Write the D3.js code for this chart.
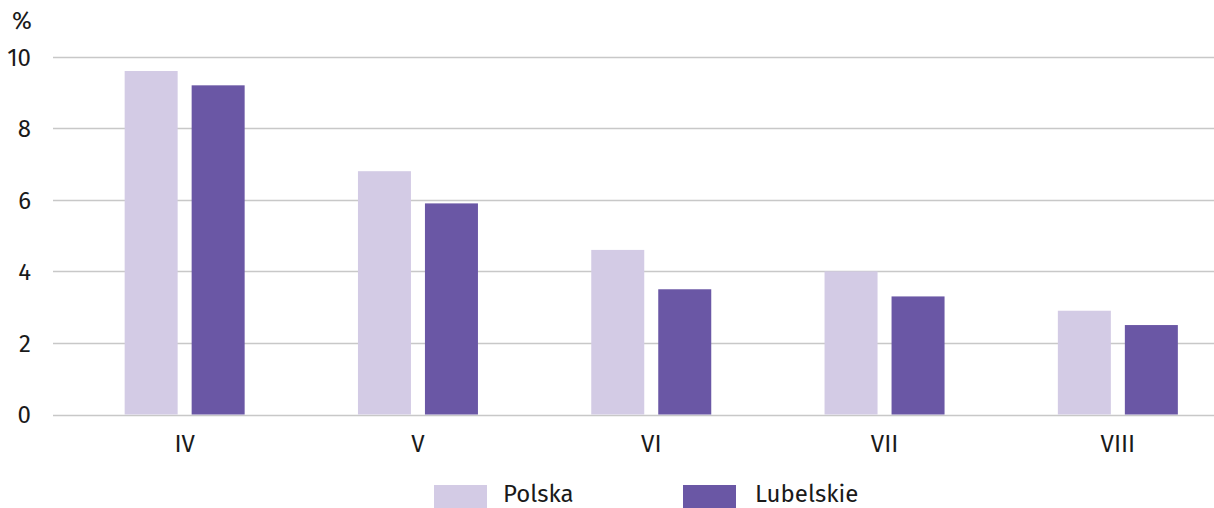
<!DOCTYPE html>
<html>
<head>
<meta charset="utf-8">
<script src="https://cdn.jsdelivr.net/npm/d3@7/dist/d3.min.js"></script>
<style>
  body { margin: 0; background: #fff; }
  text { font-family: "Fira Sans", "Noto Sans", "Open Sans", sans-serif; fill: #1a1a1a; }
</style>
</head>
<body>
<script>
// data
var months = ["IV", "V", "VI", "VII", "VIII"];
var series = ["Polska", "Lubelskie"];
var polska = [9.6, 6.8, 4.6, 4.0, 2.9];
var lubelskie = [9.2, 5.9, 3.5, 3.3, 2.5];
var yTicks = [0, 2, 4, 6, 8, 10];
var colors = ["#d3cbe5", "#6a57a5"];

var width = 1214, height = 508;
var fs = "24px";

var svg = d3.select("body").append("svg")
    .attr("width", width)
    .attr("height", height);

var x = d3.scaleBand()
    .domain(months)
    .range([68, 1234.5])
    .paddingInner(0)
    .paddingOuter(0);

var x1 = d3.scaleBand()
    .domain(series)
    .range([x.bandwidth() / 2 - 60, x.bandwidth() / 2 + 60])
    .paddingInner(14 / 67)
    .paddingOuter(0);

var y = d3.scaleLinear()
    .domain([0, 10])
    .range([414.5, 56.7]);

/*===== gridlines =====*/
svg.append("g").selectAll("line")
    .data(yTicks)
    .enter().append("line")
    .attr("x1", 53)
    .attr("x2", width)
    .attr("y1", function(d) { return Math.round(y(d)) + 0.5; })
    .attr("y2", function(d) { return Math.round(y(d)) + 0.5; })
    .attr("stroke", "#c8c8c8")
    .attr("stroke-width", 1.4);

/*===== y axis labels =====*/
var yAxis = d3.axisLeft(y).tickValues(yTicks).tickSize(0).tickPadding(0);
var yg = svg.append("g")
    .attr("transform", "translate(31,0)")
    .call(yAxis);
yg.select(".domain").remove();
yg.selectAll("text")
    .style("font-size", fs)
    .attr("fill", "#1a1a1a")
    .attr("dy", "0.35em");

svg.append("text")
    .attr("x", 22)
    .attr("y", 29)
    .attr("text-anchor", "middle")
    .style("font-size", fs)
    .text("%");

/*===== bars =====*/
var rows = months.map(function(m, i) {
  return { month: m, values: [
    { key: "Polska", v: polska[i] },
    { key: "Lubelskie", v: lubelskie[i] }
  ]};
});

var groups = svg.append("g").selectAll("g")
    .data(rows)
    .enter().append("g")
    .attr("transform", function(d) { return "translate(" + x(d.month) + ",0)"; });

groups.selectAll("rect")
    .data(function(d) { return d.values; })
    .enter().append("rect")
    .attr("x", function(d) { return x1(d.key); })
    .attr("width", x1.bandwidth())
    .attr("y", function(d) { return y(d.v); })
    .attr("height", function(d) { return y(0) - y(d.v); })
    .attr("fill", function(d, i) { return colors[i]; });

/*===== x axis labels =====*/
var xAxis = d3.axisBottom(x).tickSize(0).tickPadding(0);
var xg = svg.append("g")
    .attr("transform", "translate(0,452)")
    .call(xAxis);
xg.select(".domain").remove();
xg.selectAll("text")
    .style("font-size", fs)
    .attr("fill", "#1a1a1a")
    .attr("dy", "0");

/*===== legend =====*/
var legendX = [434, 683];
var legend = svg.append("g").selectAll("g")
    .data(series)
    .enter().append("g")
    .attr("transform", function(d, i) { return "translate(" + legendX[i] + ",485)"; });

legend.append("rect")
    .attr("width", 53)
    .attr("height", 23)
    .attr("fill", function(d, i) { return colors[i]; });

legend.append("text")
    .attr("x", function(d, i) { return i == 0 ? 69 : 72; })
    .attr("y", 17)
    .style("font-size", fs)
    .text(function(d) { return d; });
</script>
</body>
</html>
